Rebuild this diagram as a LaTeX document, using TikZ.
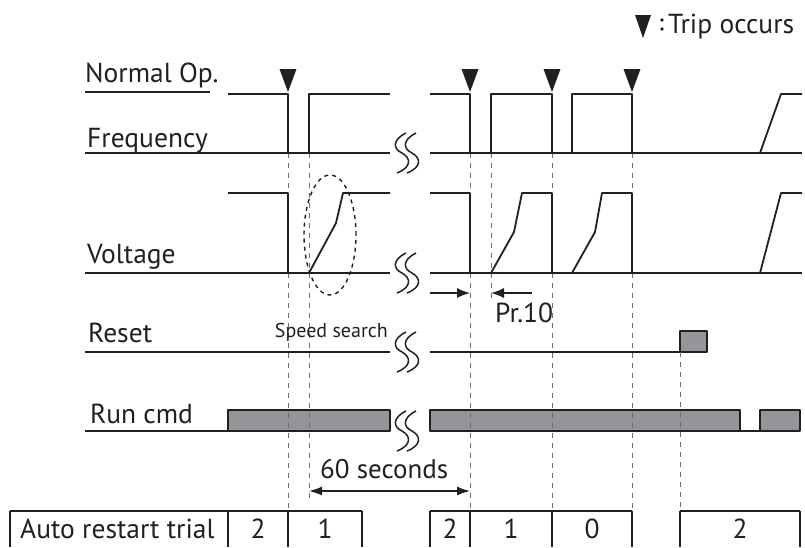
\documentclass[tikz,border=0pt]{standalone}
\usepackage{fontspec}
\setmainfont{PT Sans}
\usetikzlibrary{arrows.meta}

\definecolor{ink}{HTML}{231F20}
\definecolor{busygray}{HTML}{939598}
\definecolor{guidegray}{HTML}{6D6E71}

\tikzset{
  sig/.style={draw=ink, line width=1.8pt},
  busy/.style={draw=ink, fill=busygray, line width=1.8pt},
  guide/.style={draw=guidegray, line width=1pt, dash pattern=on 5pt off 5pt},
  lbl/.style={anchor=base west, inner sep=0pt, text=ink, font=\fontsize{27.5}{32}\selectfont},
  small/.style={inner sep=0pt, text=ink, font=\fontsize{20}{24}\selectfont},
  cell/.style={anchor=base, inner sep=0pt, text=ink, font=\fontsize{27.5}{32}\selectfont},
  trip/.style={fill=ink},
  dim/.style={draw=ink, line width=1.4pt, -{Latex[length=13pt,width=10pt]}}
}

\begin{document}
\begin{tikzpicture}[x=1pt, y=-1pt, line join=round]
    \useasboundingbox (0,0) rectangle (805,547);

    % Legend
    \fill[trip] (635,15) -- (651,15) -- (643,38) -- cycle;
    \fill[ink] (662,20) circle (1.9pt) (662,29) circle (1.9pt);
    \node[lbl] (legend) at (668,33) {Trip occurs};

    % Row labels
    \node[lbl] (normal) at (85,82) {Normal Op.};
    \node[lbl] (freq) at (87,147) {Frequency};
    \node[lbl] (volt) at (87,263) {Voltage};
    \node[lbl] (reset) at (88,342) {Reset};
    \node[lbl] (run) at (90,423) {Run cmd};
    \draw[sig] (85,92) -- (210,92);

    % Run cmd / Reset boxes (below the guides)
    \draw[busy] (228,410) rectangle (390,431);
    \draw[busy] (430,410) rectangle (740,431);
    \draw[busy] (760,410) rectangle (800,431);
    \draw[busy] (680,331) rectangle (707,352);

    % Dashed guides
    \foreach \x in {288,470,552,632} \draw[guide] (\x,153) -- (\x,511);
    \draw[guide] (309,153) -- (309,502);
    \draw[guide] (491,153) -- (491,298);
    \draw[guide] (680,352) -- (680,511);

    % Frequency
    \draw[sig] (85,153) -- (390,153);
    \draw[sig] (228,94) -- (288,94) -- (288,153);
    \draw[sig] (309,153) -- (309,94) -- (390,94);
    \draw[sig] (430,153) -- (802,153);
    \draw[sig] (430,94) -- (470,94) -- (470,153);
    \draw[sig] (491,153) -- (491,94) -- (552,94) -- (552,153);
    \draw[sig] (572,153) -- (572,94) -- (632,94) -- (632,153);
    \draw[sig] (760,153) -- (781,94) -- (802,94);

    % Trip marks
    \foreach \x in {288,470,552,632} \fill[trip] (\x-8.5,69) -- (\x+8.5,69) -- (\x,92) -- cycle;

    % Voltage
    \draw[sig] (85,273) -- (390,273);
    \draw[sig] (228,193) -- (288,193) -- (288,273);
    \draw[sig] (309,273) -- (336,223) -- (343,193) -- (390,193);
    \draw[sig] (430,273) -- (802,273);
    \draw[sig] (430,193) -- (470,193) -- (470,273);
    \draw[sig] (491,273) -- (514,232) -- (522,193) -- (552,193) -- (552,273);
    \draw[sig] (572,273) -- (595,232) -- (602,193) -- (632,193) -- (632,273);
    \draw[sig] (760,273) -- (781,193) -- (802,193);
    \draw[draw=ink, line width=1.4pt, dash pattern=on 4pt off 4pt]
        (330,235) ellipse [x radius=26pt, y radius=60pt];

    % Pr.10
    \coordinate (p0) at (430,293);
    \coordinate (p1) at (470,293);
    \coordinate (p2) at (532,293);
    \coordinate (p3) at (491,293);
    \draw[dim] (p0) -- (p1);
    \draw[dim] (p2) -- (p3);
    \node[cell, anchor=base west] (pr) at (495,322) {Pr.10};

    % Reset
    \draw[sig] (85,352) -- (390,352);
    \draw[sig] (430,352) -- (680,352);
    \node[small, anchor=base east] (search) at (388,337) {Speed search};

    % Run cmd
    \draw[sig] (85,431) -- (228,431);
    \draw[sig] (740,431) -- (760,431);

    % Time breaks
    \foreach \y in {153,273,352,431}
      \foreach \dx in {0,10}
        \draw[ink, line width=1.5pt] (406+\dx,\y-20) .. controls (392+\dx,\y-13) and (393+\dx,\y-4) .. (402+\dx,\y)
            .. controls (411+\dx,\y+5) and (412+\dx,\y+14) .. (397+\dx,\y+20);

    % 60 seconds
    \coordinate (s0) at (309,491);
    \coordinate (s1) at (470,491);
    \draw[dim, {Latex[length=13pt,width=9pt]}-{Latex[length=13pt,width=9pt]}] (s0) -- (s1);
    \node[cell, anchor=base west, font=\fontsize{27}{32}\selectfont] (sixty) at (320,478) {60 seconds};

    % Auto restart trial
    \draw[sig, line width=1.3pt] (10,511) -- (362,511) (430,511) -- (632,511) (680,511) -- (800,511);
    \foreach \x in {10,228,288,362,430,470,552,632,680,800}
      \draw[sig, line width=1.3pt] (\x,511) -- (\x,547);
    \node[cell, anchor=base west] (trial) at (20,538) {Auto restart trial};
    \node[cell] (c1) at (258,538) {2};
    \node[cell] (c2) at (325,538) {1};
    \node[cell] (c3) at (450,538) {2};
    \node[cell] (c4) at (511,538) {1};
    \node[cell] (c5) at (592,538) {0};
    \node[cell] (c6) at (740,538) {2};
\end{tikzpicture}
\end{document}
